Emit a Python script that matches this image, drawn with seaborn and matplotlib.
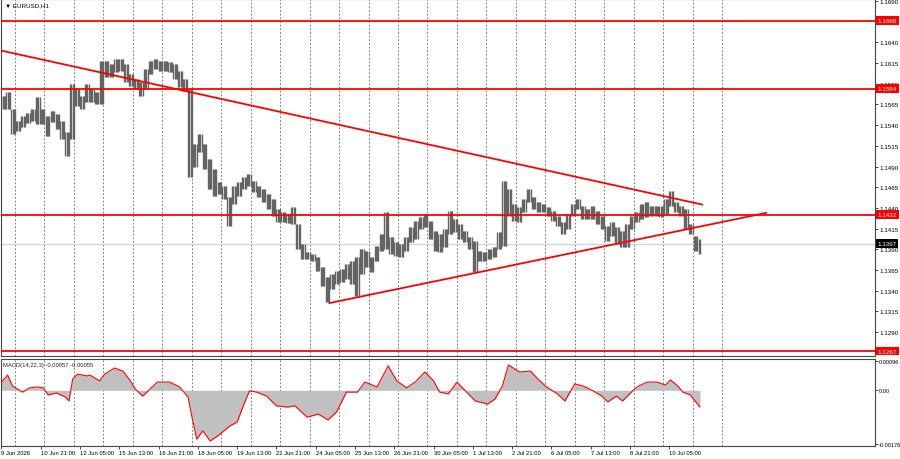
import matplotlib
matplotlib.use("Agg")
import matplotlib.pyplot as plt
import seaborn as sns
import pandas as pd

# ---------------- data ----------------
symbol_title = "\u25bc EURUSD,H1"
macd_title = "MACD(14,22,3) -0.00057 -0.00055"

# EURUSD H1 bars, grouped by 4 hours: highs and lows
h4_high = [
    1.1575, 1.1580, 1.1560, 1.1545, 1.1551, 1.1555, 1.1560, 1.1574, 1.1560, 1.1551,
    1.1557, 1.1553, 1.1545, 1.1532, 1.1590, 1.1584, 1.1575, 1.1590, 1.1584, 1.1580,
    1.1617, 1.1617, 1.1614, 1.1620, 1.1620, 1.1614, 1.1602, 1.1596, 1.1592, 1.1608,
    1.1617, 1.1620, 1.1617, 1.1617, 1.1616, 1.1614, 1.1605, 1.1596, 1.1584, 1.1517,
    1.1529, 1.1517, 1.1499, 1.1487, 1.1471, 1.1466, 1.1453, 1.1466, 1.1471, 1.1477,
    1.1481, 1.1473, 1.1466, 1.1463, 1.1457, 1.1451, 1.1439, 1.1435, 1.1433, 1.1441,
    1.1421, 1.1396, 1.1387, 1.1384, 1.1381, 1.1369, 1.1357, 1.1360, 1.1364, 1.1366,
    1.1372, 1.1376, 1.1381, 1.1390, 1.1388, 1.1381, 1.1394, 1.1409, 1.1435, 1.1405,
    1.1399, 1.1396, 1.1405, 1.1417, 1.1424, 1.1429, 1.1433, 1.1424, 1.1412, 1.1409,
    1.1415, 1.1436, 1.1427, 1.1421, 1.1412, 1.1405, 1.1400, 1.1388, 1.1387, 1.1390,
    1.1393, 1.1411, 1.1473, 1.1463, 1.1445, 1.1441, 1.1451, 1.1463, 1.1453, 1.1447,
    1.1445, 1.1441, 1.1436, 1.1430, 1.1423, 1.1433, 1.1445, 1.1451, 1.1442, 1.1439,
    1.1442, 1.1436, 1.1430, 1.1418, 1.1423, 1.1417, 1.1412, 1.1421, 1.1430, 1.1435,
    1.1445, 1.1447, 1.1442, 1.1442, 1.1442, 1.1451, 1.1460, 1.1447, 1.1442, 1.1439,
    1.1421, 1.1406, 1.1402,
]
h4_low = [
    1.1560, 1.1560, 1.1529, 1.1533, 1.1538, 1.1543, 1.1545, 1.1541, 1.1541, 1.1527,
    1.1544, 1.1535, 1.1523, 1.1503, 1.1523, 1.1563, 1.1560, 1.1568, 1.1568, 1.1566,
    1.1566, 1.1598, 1.1598, 1.1604, 1.1605, 1.1592, 1.1587, 1.1584, 1.1575, 1.1584,
    1.1602, 1.1608, 1.1605, 1.1605, 1.1604, 1.1596, 1.1586, 1.1581, 1.1477, 1.1489,
    1.1508, 1.1487, 1.1463, 1.1454, 1.1457, 1.1451, 1.1418, 1.1445, 1.1454, 1.1463,
    1.1466, 1.1459, 1.1453, 1.1447, 1.1439, 1.1430, 1.1423, 1.1423, 1.1422, 1.1421,
    1.1390, 1.1378, 1.1378, 1.1376, 1.1364, 1.1346, 1.1326, 1.1342, 1.1348, 1.1351,
    1.1354, 1.1348, 1.1334, 1.1360, 1.1369, 1.1363, 1.1376, 1.1388, 1.1390, 1.1384,
    1.1382, 1.1381, 1.1388, 1.1399, 1.1402, 1.1415, 1.1417, 1.1402, 1.1388, 1.1387,
    1.1393, 1.1409, 1.1411, 1.1402, 1.1399, 1.1390, 1.1363, 1.1376, 1.1376, 1.1378,
    1.1381, 1.1390, 1.1394, 1.1430, 1.1424, 1.1423, 1.1435, 1.1447, 1.1439, 1.1435,
    1.1435, 1.1430, 1.1424, 1.1418, 1.1409, 1.1415, 1.1430, 1.1439, 1.1427, 1.1427,
    1.1427, 1.1421, 1.1415, 1.1400, 1.1406, 1.1396, 1.1393, 1.1393, 1.1415, 1.1423,
    1.1427, 1.1429, 1.1430, 1.1430, 1.1429, 1.1433, 1.1442, 1.1435, 1.1430, 1.1415,
    1.1409, 1.1388, 1.1384,
]

# horizontal levels and current price
level_prices = [1.1666, 1.1584, 1.1432, 1.1267]
last_price = 1.1397

# trend lines: (hourly bar index, price) end points
down_bars = [0, 571]
down_prices = [1.1630, 1.1444]
up_bars = [267, 623]
up_prices = [1.1325, 1.1434]

# MACD (hourly bar index, value)
macd_bar = [0, 5, 9, 17, 23, 29, 34, 38, 45, 52, 55, 58, 62, 70, 72, 80, 84, 92, 99, 105,
            109, 115, 121, 127, 137, 145, 152, 155, 159, 164, 170, 176, 180, 186, 192, 197,
            202, 208, 216, 224, 233, 239, 249, 258, 266, 273, 281, 290, 296, 306, 315, 322,
            330, 337, 345, 352, 357, 364, 371, 378, 386, 396, 402, 408, 413, 422, 431, 437,
            444, 453, 459, 467, 474, 482, 489, 494, 501, 506, 514, 519, 526, 534, 541, 545,
            551, 555, 561, 569]
macd_val = [0.00027, 0.00050, 0.00014, -0.00006, 0.00008, 0.00011, 0.00008, -0.00015, -0.00009, -0.00022,
            -0.00035, 0.00037, 0.00053, 0.00047, 0.00050, 0.00031, 0.00053, 0.00073, 0.00063, 0.00031,
            0.00004, -0.00019, 0.00004, 0.00027, 0.00027, 0.00011, -0.00022, -0.00084, -0.00160, -0.00133,
            -0.00166, -0.00150, -0.00137, -0.00117, -0.00104, -0.00051, -0.00002, -0.00006, -0.00019, -0.00051,
            -0.00055, -0.00051, -0.00088, -0.00078, -0.00097, -0.00071, -0.00006, -0.00006, 0.00027, 0.00011,
            0.00080, 0.00031, 0.00008, 0.00027, 0.00060, 0.00031, -0.00006, -0.00012, 0.00027, -0.00002,
            -0.00035, -0.00045, -0.00029, 0.00014, 0.00083, 0.00060, 0.00063, 0.00037, 0.00011, -0.00012,
            -0.00035, 0.00021, 0.00014, -0.00002, -0.00019, -0.00038, -0.00019, -0.00035, -0.00002, 0.00014,
            0.00027, 0.00027, 0.00017, 0.00034, 0.00014, -0.00006, -0.00015, -0.00055]

time_labels = ["9 Jun 2026", "10 Jun 21:00", "12 Jun 05:00", "15 Jun 13:00", "16 Jun 21:00",
               "18 Jun 05:00", "19 Jun 13:00", "22 Jun 21:00", "24 Jun 05:00", "25 Jun 13:00",
               "26 Jun 21:00", "30 Jun 05:00", "1 Jul 13:00", "2 Jul 21:00", "6 Jul 05:00",
               "7 Jul 13:00", "8 Jul 21:00", "10 Jul 05:00"]
price_ticks = [1.1690, 1.1640, 1.1615, 1.1590, 1.1565, 1.1540, 1.1515, 1.1490, 1.1465,
               1.1440, 1.1415, 1.1390, 1.1365, 1.1340, 1.1315, 1.1290]
macd_ticks = [0.00096, 0.0, -0.00176]
macd_tick_labels = ["0.00096", "0.00", "-0.00176"]

# ---------------- styling ----------------
sns.set_theme(style="white")
plt.rcParams["font.family"] = ["Liberation Sans", "DejaVu Sans"]

W, H = 900, 460
fig = plt.figure(figsize=(W / 100, H / 100), dpi=100)
left = 1 / W
width = 874 / W
ax = fig.add_axes([left, 1 - 357 / H, width, 357 / H])
axm = fig.add_axes([left, 1 - 447 / H, width, 87 / H])

XLIM = (-0.4, 711.6)
BARS_PER_GROUP = 4
BARS_PER_DAY = 24
LABEL_STEP = 32

for a in (ax, axm):
    a.set_xlim(*XLIM)
    a.set_facecolor("white")
    for s in a.spines.values():
        s.set_color("#454545")
        s.set_linewidth(0.8)
    # day separators (dashed)
    for k in range(25):
        a.axvline(11 + BARS_PER_DAY * k, color="#6a6a6a", lw=0.6,
                  ls=(0, (2.2, 2.2)), zorder=0.6)

ax.set_ylim(1.12611, 1.16924)
axm.set_ylim(-0.001825, 0.001026)

# price bars: each 4-hour group drawn as its hourly bar lines
pdf = pd.DataFrame({"high": h4_high, "low": h4_low})
rows = []
for g, r in pdf.iterrows():
    for h in range(BARS_PER_GROUP):
        rows.append((g * BARS_PER_GROUP + h, r["low"], r["high"]))
bars = pd.DataFrame(rows, columns=["bar", "low", "high"])
bars = bars[bars["bar"] < 570]
ax.vlines(bars["bar"], bars["low"], bars["high"], color="#646464", lw=1.0, zorder=2)

# current price line and levels
ax.axhline(last_price, color="#d4d4d4", lw=1.0, zorder=1.5)
for lvl in level_prices:
    ax.axhline(lvl, color="#ff0000", lw=1.3, zorder=4)
ax.plot(down_bars, down_prices, color="#ff0000", lw=1.3, zorder=4)
ax.plot(up_bars, up_prices, color="#ff0000", lw=1.3, zorder=4)

# MACD
mdf = pd.DataFrame({"bar": macd_bar, "val": macd_val})
axm.fill_between(mdf["bar"], mdf["val"], 0, color="#c0c0c0", linewidth=0, zorder=1)
sns.lineplot(data=mdf, x="bar", y="val", ax=axm, color="#ff0000", linewidth=0.8,
             zorder=3, legend=False)
axm.set_xlabel("")
axm.set_ylabel("")
ax.set_xlabel("")
ax.set_ylabel("")

# axes ticks
ax.set_xticks([])
ax.yaxis.tick_right()
ax.set_yticks(price_ticks)
ax.set_yticklabels([f"{v:.4f}" for v in price_ticks])
ax.tick_params(axis="y", right=True, left=False, length=2, width=0.5, pad=1,
               labelsize=4.5, colors="black")

axm.yaxis.tick_right()
axm.set_yticks(macd_ticks)
axm.set_yticklabels(macd_tick_labels)
axm.tick_params(axis="y", right=True, left=False, length=2, width=0.5, pad=1,
                labelsize=4.1, colors="black")
axm.set_xticks([LABEL_STEP * k for k in range(len(time_labels))])
axm.set_xticklabels(time_labels, ha="left")
axm.tick_params(axis="x", bottom=True, length=2, width=0.5, pad=1,
                labelsize=4.2, colors="black")

# price boxes on the right scale
def price_box(v, fc):
    ax.text(1.0 + 2.5 / 874, v, f"{v:.4f}", transform=ax.get_yaxis_transform(),
            ha="left", va="center", fontsize=4.5, color="white",
            bbox=dict(boxstyle="square,pad=0.3", fc=fc, ec="none"),
            zorder=10, clip_on=False)

for lvl in level_prices:
    price_box(lvl, "#ff0000")
price_box(last_price, "#000000")

fig.text(5 / W, 1 - 6 / H, symbol_title, fontsize=4.5, ha="left", va="center", color="black")
axm.text(2 / 874, 1 - 3 / 87, macd_title, transform=axm.transAxes, ha="left", va="top",
         fontsize=4.2, color="#202020")

fig.savefig("out.png", dpi=100)
